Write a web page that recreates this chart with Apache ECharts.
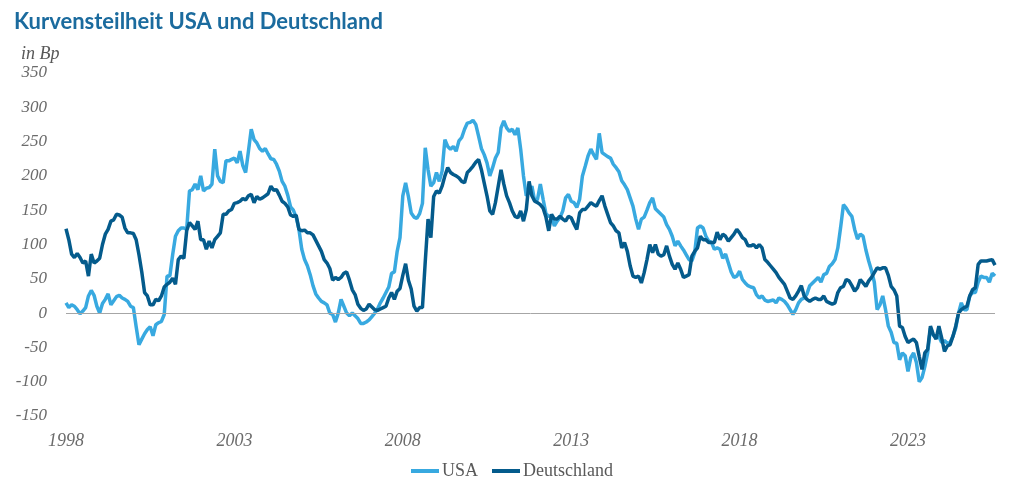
<!DOCTYPE html>
<html>
<head>
<meta charset="utf-8">
<script src="https://cdn.jsdelivr.net/npm/echarts@6/dist/echarts.min.js"></script>
<style>
  html, body { margin: 0; padding: 0; background: #fff; }
  #myChart { width: 1024px; height: 493px; }
</style>
</head>
<body>
<div id="myChart"></div>
<script>
// Monatswerte ab Jan 1998, Basispunkte (10J - 2J)
var startYear = 1998;
var tickYears = ['1998', '2003', '2008', '2013', '2018', '2023'];
var yTicks = [-150, -100, -50, 0, 50, 100, 150, 200, 250, 300, 350];

var usa = [
  15, 8, 12, 10, 5, -1, 3, 8, 25, 33, 26, 10,            // 1998
  0, 14, 20, 28, 12, 18, 24, 26, 22, 20, 17, 10,         // 1999
  8, -20, -46, -38, -30, -24, -20, -33, -17, -14, -12, -2, // 2000
  54, 54, 85, 112, 120, 124, 124, 122, 178, 180, 188, 180, // 2001
  200, 178, 182, 183, 188, 239, 200, 192, 190, 222, 222, 224, // 2002
  226, 219, 236, 215, 205, 236, 268, 253, 248, 240, 236, 240, // 2003
  232, 225, 224, 217, 207, 192, 185, 172, 155, 150, 140, 122, // 2004
  93, 78, 69, 56, 40, 28, 22, 17, 15, 12, 0, -2,         // 2005
  -13, 0, 20, 10, 0, -4, 0, -4, -8, -15, -15, -13,       // 2006
  -10, -5, 0, 6, 15, 22, 30, 38, 58, 60, 90, 110,        // 2007
  171, 190, 170, 146, 140, 138, 145, 160, 241, 209, 185, 190, // 2008
  205, 192, 207, 253, 243, 239, 243, 236, 251, 256, 268, 277, // 2009
  278, 281, 275, 258, 240, 231, 219, 200, 212, 226, 234, 270, // 2010
  280, 270, 265, 268, 260, 270, 239, 200, 171, 175, 185, 163, // 2011
  166, 188, 166, 145, 141, 141, 127, 134, 139, 149, 168, 173, // 2012
  163, 161, 154, 166, 200, 214, 229, 239, 231, 224, 262, 234, // 2013
  231, 228, 226, 217, 212, 206, 193, 187, 180, 168, 156, 137, // 2014
  122, 137, 140, 150, 161, 168, 152, 148, 144, 140, 129, 122, // 2015
  112, 98, 105, 98, 92, 85, 78, 76, 88, 124, 127, 124,   // 2016
  112, 105, 103, 93, 95, 93, 80, 86, 73, 60, 52, 54,     // 2017
  61, 49, 44, 40, 38, 37, 27, 22, 25, 19, 17, 18,        // 2018
  19, 15, 22, 20, 17, 12, 5, -2, 5, 15, 20, 22,          // 2019
  28, 40, 44, 48, 52, 45, 56, 58, 68, 72, 78, 95,        // 2020
  125, 158, 153, 146, 141, 122, 108, 115, 112, 92, 76, 62, // 2021
  45, 5, 12, 25, 5, -19, -28, -43, -44, -68, -58, -62,   // 2022
  -85, -65, -58, -72, -100, -94, -78, -58, -22, -32, -36, -34, // 2023
  -43, -40, -44, -43, -34, -22, 0, 15, 5, 5, 25, 30,     // 2024
  30, 45, 54, 52, 52, 45, 58, 54                         // 2025
];

var deutschland = [
  123, 107, 86, 81, 87, 81, 73, 76, 54, 86, 73, 76,      // 1998
  80, 100, 115, 122, 134, 136, 144, 143, 140, 124, 117, 117, // 1999
  116, 107, 85, 60, 30, 25, 12, 12, 20, 18, 25, 38,      // 2000
  42, 45, 51, 42, 78, 83, 80, 120, 132, 127, 122, 134,   // 2001
  107, 107, 93, 105, 95, 107, 112, 117, 144, 144, 149, 151, // 2002
  160, 161, 163, 167, 165, 171, 173, 161, 170, 166, 168, 171, // 2003
  174, 185, 179, 180, 172, 163, 160, 155, 143, 141, 143, 122, // 2004
  120, 121, 117, 117, 114, 106, 98, 90, 78, 73, 65, 48,  // 2005
  52, 49, 52, 58, 60, 48, 34, 27, 13, 7, 4, 6,           // 2006
  13, 9, 5, 4, 6, 8, 10, 22, 30, 20, 32, 36,             // 2007
  55, 72, 48, 35, 10, 3, 8, 8, 75, 137, 110, 170,        // 2008
  178, 175, 185, 200, 212, 205, 202, 200, 197, 192, 190, 205, // 2009
  209, 214, 220, 224, 209, 190, 171, 149, 144, 161, 185, 209, // 2010
  188, 171, 161, 149, 141, 139, 149, 134, 151, 192, 171, 163, // 2011
  161, 158, 153, 140, 120, 144, 137, 137, 141, 137, 134, 141, // 2012
  139, 130, 122, 146, 151, 151, 156, 161, 158, 156, 164, 171, // 2013
  156, 144, 132, 127, 120, 117, 95, 103, 90, 69, 54, 52, // 2014
  54, 44, 59, 78, 100, 88, 100, 86, 83, 85, 98, 83,      // 2015
  71, 64, 73, 64, 52, 54, 56, 83, 90, 95, 112, 107,      // 2016
  107, 103, 103, 103, 118, 107, 115, 112, 105, 110, 115, 122, // 2017
  117, 110, 107, 98, 98, 100, 95, 100, 95, 78, 74, 69,   // 2018
  64, 59, 52, 47, 42, 32, 22, 20, 25, 32, 40, 25,        // 2019
  20, 17, 20, 22, 20, 20, 25, 17, 15, 13, 15, 30,        // 2020
  37, 39, 49, 47, 40, 32, 37, 49, 44, 39, 47, 52,        // 2021
  59, 66, 64, 66, 66, 55, 39, 34, 25, -19, -21, -34,     // 2022
  -43, -40, -38, -43, -63, -82, -58, -53, -19, -31, -38, -19, // 2023
  -36, -56, -48, -46, -34, -19, 0, 5, 8, 10, 25, 34,     // 2024
  37, 71, 76, 76, 76, 77, 78, 70                         // 2025
];

// Monatskategorien
var months = [];
for (var i = 0; i < usa.length; i++) {
  var y = startYear + Math.floor(i / 12);
  var mo = (i % 12) + 1;
  months.push(y + '-' + (mo < 10 ? '0' + mo : mo));
}

var myChart = echarts.init(document.getElementById('myChart'));
myChart.setOption({
  animation: false,
  backgroundColor: '#ffffff',
  title: [
    {
      text: 'Kurvensteilheit USA und Deutschland',
      left: 9,
      top: 6,
      textStyle: { fontFamily: 'Lato', fontWeight: 'bold', fontSize: 22, color: '#1b6b9e' }
    },
    {
      text: 'in Bp',
      left: 16,
      top: 40,
      textStyle: { fontFamily: 'Liberation Serif', fontStyle: 'italic', fontWeight: 'normal', fontSize: 18, color: '#595959' }
    }
  ],
  legend: {
    data: ['USA', 'Deutschland'],
    left: 'center',
    top: 457,
    icon: 'rect',
    itemWidth: 28,
    itemHeight: 4,
    itemGap: 14,
    textStyle: { fontFamily: 'Liberation Serif', fontSize: 18, color: '#595959', padding: [0, 0, 0, -2] }
  },
  grid: {
    left: 66,
    right: 29,
    top: 73,
    bottom: 77,
    containLabel: false
  },
  xAxis: {
    type: 'category',
    data: months,
    boundaryGap: false,
    axisLine: { show: false, onZero: false },
    axisTick: { show: false },
    splitLine: { show: false },
    axisLabel: {
      interval: 59,
      margin: 16,
      fontFamily: 'Liberation Serif',
      fontStyle: 'italic',
      fontSize: 18,
      color: '#6b6b6b',
      formatter: function (v) {
        var yr = v.substring(0, 4);
        return tickYears.indexOf(yr) >= 0 ? yr : '';
      }
    }
  },
  yAxis: {
    type: 'value',
    min: yTicks[0],
    max: yTicks[yTicks.length - 1],
    interval: 50,
    axisLine: { show: false },
    axisTick: { show: false },
    splitLine: { show: false },
    axisLabel: {
      margin: 19,
      fontFamily: 'Liberation Serif',
      fontStyle: 'italic',
      fontSize: 17,
      color: '#6b6b6b'
    }
  },
  series: [
    {
      name: 'Nulllinie',
      type: 'line',
      data: [],
      z: 1,
      markLine: {
        silent: true,
        symbol: 'none',
        label: { show: false },
        lineStyle: { color: '#a6a6a6', width: 1, type: 'solid' },
        data: [{ yAxis: 0 }]
      }
    },
    {
      name: 'USA',
      type: 'line',
      data: usa,
      showSymbol: false,
      z: 2,
      itemStyle: { color: '#38a9e0' },
      lineStyle: { color: '#38a9e0', width: 3.5 }
    },
    {
      name: 'Deutschland',
      type: 'line',
      data: deutschland,
      showSymbol: false,
      z: 3,
      itemStyle: { color: '#045b8c' },
      lineStyle: { color: '#045b8c', width: 3.5 }
    }
  ]
});
</script>
</body>
</html>
